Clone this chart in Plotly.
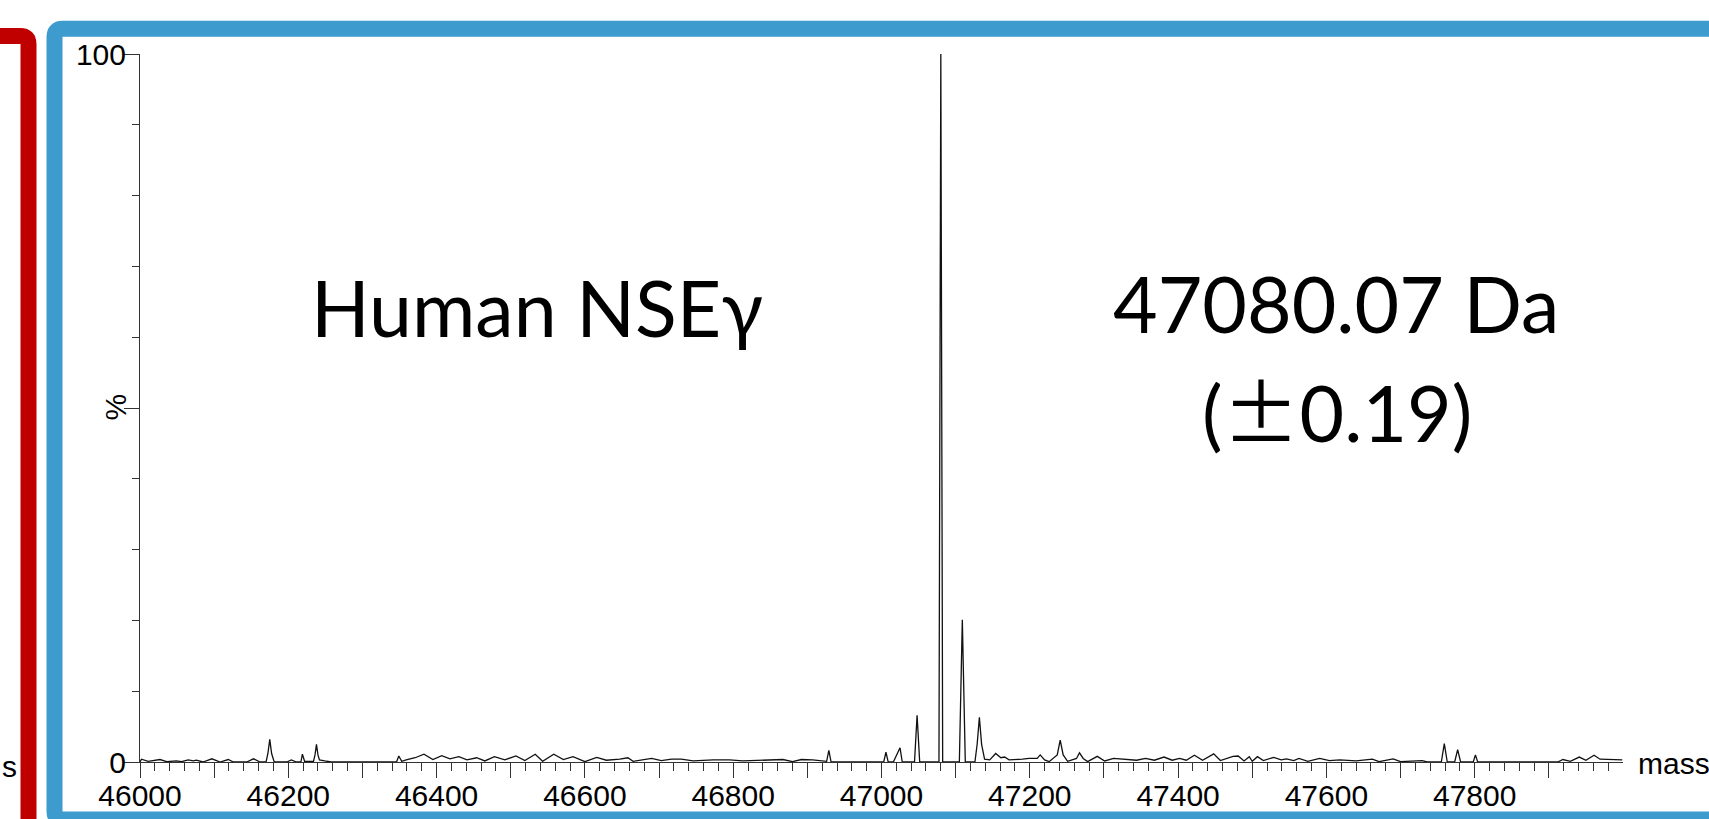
import plotly.graph_objects as go

# ---------------- data ----------------
mass = [
    46000, 46002, 46011, 46027, 46036, 46049, 46056, 46065, 46072, 46076, 46085, 46097, 46108, 46119, 46126,
    46144, 46153, 46162, 46170, 46172.5, 46175, 46177.5, 46181, 46198, 46204, 46211, 46217, 46219, 46222,
    46231, 46234, 46236, 46238, 46240, 46242, 46249, 46258, 46339,
    46346, 46349, 46353, 46359, 46371, 46383, 46395, 46407, 46418, 46430, 46441, 46454, 46465, 46478, 46492,
    46507, 46519, 46533, 46543, 46558, 46571, 46584, 46600, 46616, 46629, 46647, 46658, 46665, 46690, 46703,
    46717, 46730, 46746, 46773, 46795, 46813, 46838, 46867, 46880, 46892, 46907, 46919, 46926, 46929, 46932,
    46999, 47003, 47006, 47009, 47016, 47020, 47022, 47025, 47028, 47044.5, 47048, 47051.5, 47077.5, 47080,
    47082.5, 47105, 47109, 47113, 47126, 47129, 47132, 47135, 47139, 47146, 47154, 47161, 47166, 47172, 47190,
    47199, 47210, 47214, 47220, 47226, 47237, 47241, 47245, 47251, 47263, 47267, 47272, 47278,
    47291, 47301, 47313, 47329, 47344, 47356, 47368, 47381, 47392, 47402, 47411, 47422, 47433, 47448, 47457,
    47474, 47481, 47489, 47496, 47500, 47507, 47515, 47529, 47539, 47546, 47556, 47563, 47575, 47591, 47604,
    47618, 47640, 47662, 47671, 47690, 47700, 47729, 47736, 47755, 47759, 47763, 47773, 47777, 47781, 47798,
    47801, 47804, 47912, 47919, 47929, 47941, 47950, 47961, 47969, 47984, 47999,
]
intensity = [
    0, 0.4, 0.1, 0.35, 0.05, 0.15, 0.05, 0.3, 0.15, 0.25, 0, 0.45, 0, 0.35, 0,
    0, 0.45, 0, 0, 1.2, 3.2, 1.2, 0, 0, 0.3, 0, 0, 1.1, 0.1,
    0.15, 0.1, 1.0, 2.5, 1.0, 0.3, 0.15, 0, 0,
    0, 0.85, 0.1, 0.3, 0.6, 1.1, 0.35, 0.9, 0.45, 0.75, 0.3, 0.6, 0.15, 0.75, 0.3,
    0.85, 0.2, 1.1, 0.1, 1.1, 0.35, 0.75, 0.05, 0.65, 0.25, 0.4, 0.6, 0.1, 0.5, 0.2,
    0.4, 0.4, 0.15, 0.3, 0.3, 0.15, 0.25, 0.35, 0.05, 0.35, 0.3, 0.15, 0.1, 1.65, 0,
    0, 0, 1.4, 0, 0, 0.9, 1.4, 2.0, 0, 0, 6.6, 0, 0, 100,
    0, 0, 20.1, 0, 0, 2.5, 6.3, 2.5, 0.4, 0.3, 1.2, 0.6, 0.7, 0.3, 0.4,
    0.5, 0.5, 1.0, 0.3, 0.05, 1.0, 3.1, 1.0, 0.1, 0.5, 1.3, 0.5, 0.05,
    0.8, 0.15, 0.5, 0.35, 0.25, 0.5, 0.25, 0.7, 0.25, 0.5, 0.25, 0.95, 0.25, 1.15, 0.2,
    0.8, 0.85, 0.15, 0.75, 0.1, 0.75, 0.2, 0.65, 0.3, 0.45, 0.2, 0.5, 0.1, 0.5, 0.2,
    0.3, 0.15, 0.4, 0.05, 0.45, 0.05, 0.2, 0, 0, 2.6, 0, 0, 1.75, 0, 0,
    1.0, 0, 0, 0.35, 0.1, 0.7, 0.25, 0.95, 0.4, 0.35, 0.3,
]

x_major_ticks = list(range(46000, 48000, 100))
x_tick_labels = [str(v) if v % 200 == 0 else "" for v in x_major_ticks]
x_minor_ticks = [v for v in range(46020, 48000, 20) if v % 100 != 0]
y_major_ticks = [0, 50, 100]
y_tick_labels = ["0", "", "100"]
y_minor_ticks = [10, 20, 30, 40, 60, 70, 80, 90]

title_text = "Human NSEγ"
mass_text = "47080.07 Da"
err_text = "(<span style='font-family:\"Noto Sans CJK JP\"'>±</span>0.19)"

# ---------------- layout geometry (pixels) ----------------
WIDTH, HEIGHT = 1709, 819
L, T = 140, 54
PW, PH = 1483, 708
R = WIDTH - L - PW
B = HEIGHT - T - PH


def px(x):
    return (x - L) / PW


def py(y):
    return (T + PH - y) / PH


fig = go.Figure()
fig.add_trace(go.Scatter(
    x=mass, y=intensity, mode="lines",
    line=dict(color="#111111", width=1.3),
    hoverinfo="x+y", showlegend=False,
))

tick_font = dict(family="Liberation Sans, Arial, sans-serif", size=30, color="black")

fig.update_xaxes(
    range=[46000, 48000], showgrid=False, zeroline=False, automargin=False,
    showline=True, linecolor="#333333", linewidth=1,
    tickmode="array", tickvals=x_major_ticks, ticktext=x_tick_labels,
    ticks="outside", ticklen=15, tickwidth=1, tickcolor="#333333",
    tickfont=tick_font, ticklabelstandoff=-8,
    minor=dict(tickmode="array", tickvals=x_minor_ticks, ticks="outside",
               ticklen=8, tickwidth=1, tickcolor="#333333", showgrid=False),
)
fig.update_yaxes(
    range=[0, 100], showgrid=False, zeroline=False, automargin=False,
    showline=True, linecolor="#333333", linewidth=1,
    tickmode="array", tickvals=y_major_ticks, ticktext=y_tick_labels,
    ticks="outside", ticklen=15, tickwidth=1, tickcolor="#333333",
    tickfont=tick_font, ticklabelstandoff=-8,
    minor=dict(tickmode="array", tickvals=y_minor_ticks, ticks="outside",
               ticklen=7, tickwidth=1, tickcolor="#333333", showgrid=False),
)

# borders of the slide panels
r = 8
blue = "#3d9bcd"
red = "#c00000"
bx, btop, bbot, bright = 54.5, 28.8, 819.5, 1780
blue_path = (
    f"M {px(bright)},{py(btop)} L {px(bx + r)},{py(btop)} "
    f"Q {px(bx)},{py(btop)} {px(bx)},{py(btop + r)} "
    f"L {px(bx)},{py(bbot - r)} Q {px(bx)},{py(bbot)} {px(bx + r)},{py(bbot)} "
    f"L {px(bright)},{py(bbot)}"
)
rx, rtop = 28.5, 36
red_path = (
    f"M {px(-40)},{py(rtop)} L {px(rx - r)},{py(rtop)} "
    f"Q {px(rx)},{py(rtop)} {px(rx)},{py(rtop + r)} L {px(rx)},{py(880)}"
)
fig.add_shape(type="path", path=blue_path, xref="paper", yref="paper",
              line=dict(color=blue, width=16), layer="above")
fig.add_shape(type="path", path=red_path, xref="paper", yref="paper",
              line=dict(color=red, width=16), layer="above")

big_font = dict(family="Lato, 'Open Sans', sans-serif", size=77, color="black")
fig.add_annotation(text=title_text, x=px(536.5), y=py(307), xref="paper", yref="paper",
                   xanchor="center", yanchor="middle", showarrow=False, font=big_font)
fig.add_annotation(text=mass_text, x=px(1336), y=py(303), xref="paper", yref="paper",
                   xanchor="center", yanchor="middle", showarrow=False, font=big_font)
fig.add_annotation(text=err_text, x=px(1337), y=py(408), xref="paper", yref="paper",
                   xanchor="center", yanchor="middle", showarrow=False, font=big_font)

lab_font = dict(family="Liberation Sans, Arial, sans-serif", size=30, color="black")
fig.add_annotation(text="%", x=px(115), y=py(407.5), xref="paper", yref="paper",
                   xanchor="center", yanchor="middle", textangle=-90,
                   showarrow=False, font=lab_font)
fig.add_annotation(text="mass", x=px(1636), y=py(763), xref="paper", yref="paper",
                   xanchor="left", yanchor="middle", showarrow=False, font=lab_font)
fig.add_annotation(text="s", x=px(0), y=py(766), xref="paper", yref="paper",
                   xanchor="left", yanchor="middle", showarrow=False,
                   font=dict(family="Liberation Sans, Arial, sans-serif", size=30, color="black"))

fig.update_layout(
    width=WIDTH, height=HEIGHT,
    margin=dict(l=L, r=R, t=T, b=B, pad=0, autoexpand=False),
    paper_bgcolor="white", plot_bgcolor="white",
    showlegend=False,
)

fig.write_html("out.html", include_plotlyjs=True, config={"displayModeBar": False})
